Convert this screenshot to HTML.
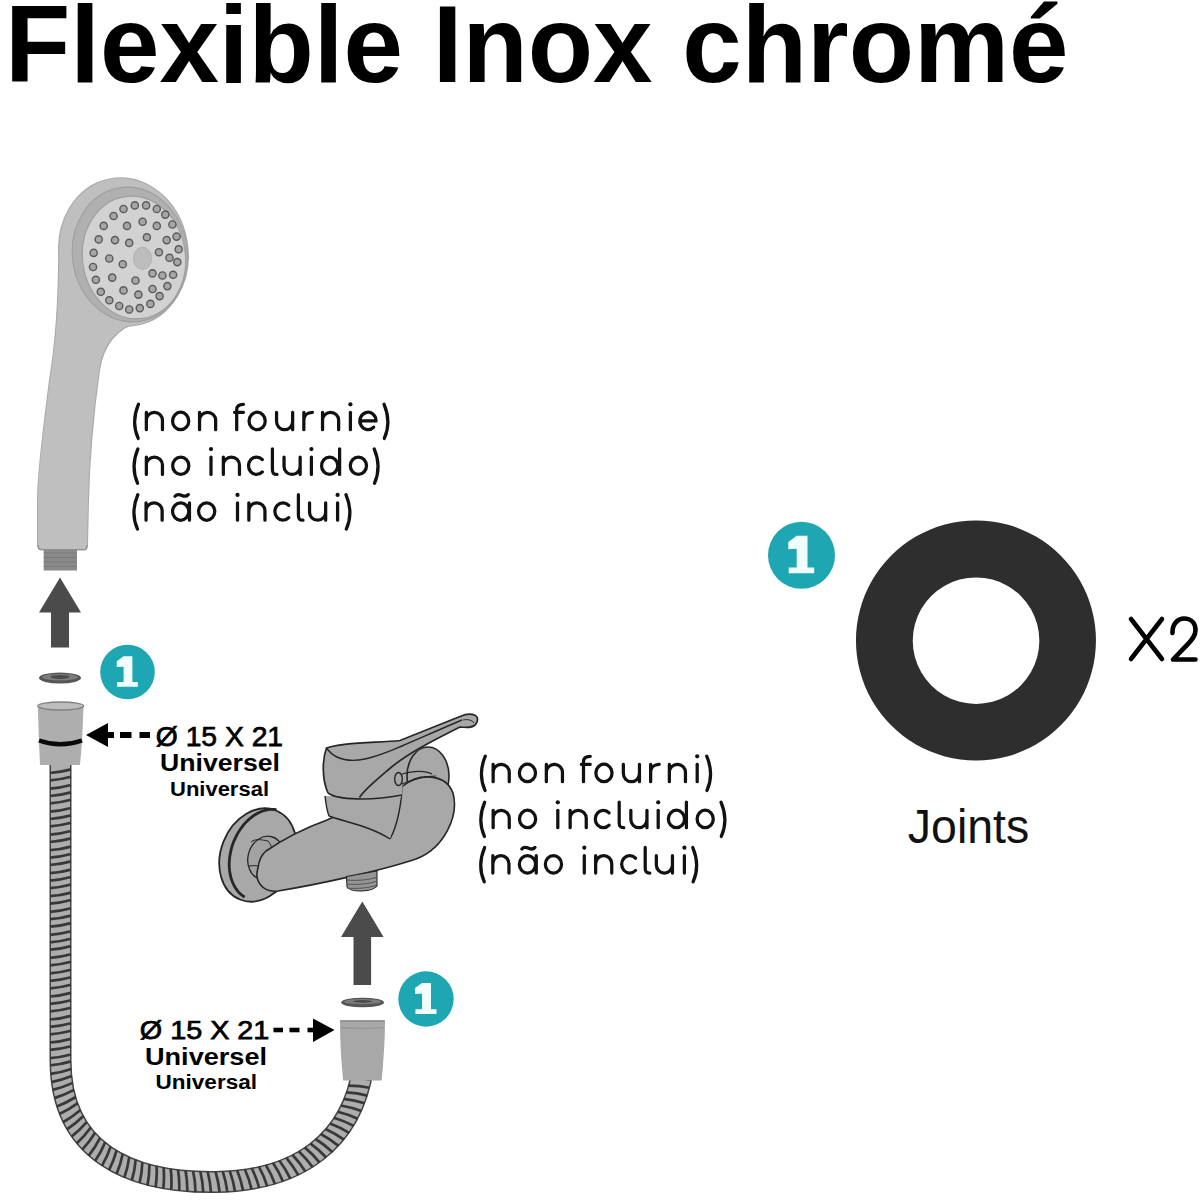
<!DOCTYPE html>
<html><head><meta charset="utf-8"><title>Flexible Inox chromé</title>
<style>html,body{margin:0;padding:0;background:#fff;} svg{display:block;}</style></head>
<body>
<svg width="1200" height="1200" viewBox="0 0 1200 1200">
<rect width="1200" height="1200" fill="#fff"/>
<text x="4.9" y="82" font-family="Liberation Sans" font-weight="bold" font-size="108.5" textLength="1063.6" lengthAdjust="spacingAndGlyphs" fill="#000">Flexible Inox chromé</text>
<path d="M59.2 248.4 C 59.2 290, 57.5 335, 50 380 C 45 420, 38 470, 38 500 L 38 545 Q 38 549.5 42 549.5 L 84 549.5 Q 87 549.5 87 545 L 88 500 C 89 460, 92 420, 99 370 C 103 345, 115 328, 140 321 L 150 250 Z" fill="none" stroke="#a9a9a9" stroke-width="2"/>
<ellipse cx="123.5" cy="252" rx="64" ry="74" transform="rotate(-10 123.5 252)" fill="none" stroke="#a9a9a9" stroke-width="2"/>
<path d="M59.2 248.4 C 59.2 290, 57.5 335, 50 380 C 45 420, 38 470, 38 500 L 38 545 Q 38 549.5 42 549.5 L 84 549.5 Q 87 549.5 87 545 L 88 500 C 89 460, 92 420, 99 370 C 103 345, 115 328, 140 321 L 150 250 Z" fill="#bfbfbf"/>
<path d="M38 545 Q 38 549.5 42 549.5 L 84 549.5 Q 87 549.5 87 545" fill="none" stroke="#8e8e8e" stroke-width="1.2"/>
<ellipse cx="123.5" cy="252" rx="64" ry="74" transform="rotate(-10 123.5 252)" fill="#bfbfbf"/>
<ellipse cx="130" cy="254.5" rx="57.5" ry="67.5" transform="rotate(-8 130 254.5)" fill="#b0b0b0" stroke="#a0a0a0" stroke-width="1.2"/>
<ellipse cx="134" cy="257.5" rx="51.5" ry="61.5" transform="rotate(-8 134 257.5)" fill="#d2d2d2" stroke="#a0a0a0" stroke-width="1.2"/>
<circle cx="123.5" cy="209" r="3.6" fill="#a6a6a6" stroke="#5a5a5a" stroke-width="1.4"/>
<circle cx="134.8" cy="205.4" r="3.6" fill="#a6a6a6" stroke="#5a5a5a" stroke-width="1.4"/>
<circle cx="146.1" cy="205.4" r="3.6" fill="#a6a6a6" stroke="#5a5a5a" stroke-width="1.4"/>
<circle cx="156.8" cy="209" r="3.6" fill="#a6a6a6" stroke="#5a5a5a" stroke-width="1.4"/>
<circle cx="165.3" cy="214.6" r="3.6" fill="#a6a6a6" stroke="#5a5a5a" stroke-width="1.4"/>
<circle cx="172.4" cy="224.5" r="3.6" fill="#a6a6a6" stroke="#5a5a5a" stroke-width="1.4"/>
<circle cx="176.6" cy="236.6" r="3.6" fill="#a6a6a6" stroke="#5a5a5a" stroke-width="1.4"/>
<circle cx="178.7" cy="249.3" r="3.6" fill="#a6a6a6" stroke="#5a5a5a" stroke-width="1.4"/>
<circle cx="177.3" cy="262.1" r="3.6" fill="#a6a6a6" stroke="#5a5a5a" stroke-width="1.4"/>
<circle cx="173.1" cy="274.8" r="3.6" fill="#a6a6a6" stroke="#5a5a5a" stroke-width="1.4"/>
<circle cx="167.4" cy="286.1" r="3.6" fill="#a6a6a6" stroke="#5a5a5a" stroke-width="1.4"/>
<circle cx="159.6" cy="296.1" r="3.6" fill="#a6a6a6" stroke="#5a5a5a" stroke-width="1.4"/>
<circle cx="150.4" cy="303.9" r="3.6" fill="#a6a6a6" stroke="#5a5a5a" stroke-width="1.4"/>
<circle cx="139.8" cy="308.1" r="3.6" fill="#a6a6a6" stroke="#5a5a5a" stroke-width="1.4"/>
<circle cx="129.2" cy="309.5" r="3.6" fill="#a6a6a6" stroke="#5a5a5a" stroke-width="1.4"/>
<circle cx="119.2" cy="306" r="3.6" fill="#a6a6a6" stroke="#5a5a5a" stroke-width="1.4"/>
<circle cx="109.3" cy="300.3" r="3.6" fill="#a6a6a6" stroke="#5a5a5a" stroke-width="1.4"/>
<circle cx="100.8" cy="291.8" r="3.6" fill="#a6a6a6" stroke="#5a5a5a" stroke-width="1.4"/>
<circle cx="95.9" cy="279.8" r="3.6" fill="#a6a6a6" stroke="#5a5a5a" stroke-width="1.4"/>
<circle cx="93" cy="267" r="3.6" fill="#a6a6a6" stroke="#5a5a5a" stroke-width="1.4"/>
<circle cx="93.7" cy="252.9" r="3.6" fill="#a6a6a6" stroke="#5a5a5a" stroke-width="1.4"/>
<circle cx="98.7" cy="239.4" r="3.6" fill="#a6a6a6" stroke="#5a5a5a" stroke-width="1.4"/>
<circle cx="103.7" cy="225.9" r="3.6" fill="#a6a6a6" stroke="#5a5a5a" stroke-width="1.4"/>
<circle cx="113.6" cy="216" r="3.6" fill="#a6a6a6" stroke="#5a5a5a" stroke-width="1.4"/>
<circle cx="127" cy="225.9" r="3.6" fill="#a6a6a6" stroke="#5a5a5a" stroke-width="1.4"/>
<circle cx="142.6" cy="221.7" r="3.6" fill="#a6a6a6" stroke="#5a5a5a" stroke-width="1.4"/>
<circle cx="156.8" cy="225.9" r="3.6" fill="#a6a6a6" stroke="#5a5a5a" stroke-width="1.4"/>
<circle cx="115" cy="240.1" r="3.6" fill="#a6a6a6" stroke="#5a5a5a" stroke-width="1.4"/>
<circle cx="129.2" cy="242.9" r="3.6" fill="#a6a6a6" stroke="#5a5a5a" stroke-width="1.4"/>
<circle cx="146.9" cy="237.3" r="3.6" fill="#a6a6a6" stroke="#5a5a5a" stroke-width="1.4"/>
<circle cx="166.7" cy="240.1" r="3.6" fill="#a6a6a6" stroke="#5a5a5a" stroke-width="1.4"/>
<circle cx="158.9" cy="252.2" r="3.6" fill="#a6a6a6" stroke="#5a5a5a" stroke-width="1.4"/>
<circle cx="169.5" cy="257.8" r="3.6" fill="#a6a6a6" stroke="#5a5a5a" stroke-width="1.4"/>
<circle cx="109.3" cy="258.5" r="3.6" fill="#a6a6a6" stroke="#5a5a5a" stroke-width="1.4"/>
<circle cx="122.8" cy="264.2" r="3.6" fill="#a6a6a6" stroke="#5a5a5a" stroke-width="1.4"/>
<circle cx="152.5" cy="273.4" r="3.6" fill="#a6a6a6" stroke="#5a5a5a" stroke-width="1.4"/>
<circle cx="162.4" cy="275.5" r="3.6" fill="#a6a6a6" stroke="#5a5a5a" stroke-width="1.4"/>
<circle cx="112.2" cy="277.6" r="3.6" fill="#a6a6a6" stroke="#5a5a5a" stroke-width="1.4"/>
<circle cx="135.5" cy="280.5" r="3.6" fill="#a6a6a6" stroke="#5a5a5a" stroke-width="1.4"/>
<circle cx="152.5" cy="289" r="3.6" fill="#a6a6a6" stroke="#5a5a5a" stroke-width="1.4"/>
<circle cx="123.5" cy="290.4" r="3.6" fill="#a6a6a6" stroke="#5a5a5a" stroke-width="1.4"/>
<circle cx="138.4" cy="294.6" r="3.6" fill="#a6a6a6" stroke="#5a5a5a" stroke-width="1.4"/>
<ellipse cx="142.5" cy="258.3" rx="9" ry="11" fill="#bdbdbd" stroke="#b0b0b0" stroke-width="1"/>
<rect x="43.7" y="549.5" width="33.3" height="21" fill="#8a8a8a"/>
<line x1="43.7" y1="553" x2="77" y2="553" stroke="#7a7a7a" stroke-width="1.2"/>
<line x1="43.7" y1="557.5" x2="77" y2="557.5" stroke="#7a7a7a" stroke-width="1.2"/>
<line x1="43.7" y1="562" x2="77" y2="562" stroke="#7a7a7a" stroke-width="1.2"/>
<line x1="43.7" y1="566.5" x2="77" y2="566.5" stroke="#7a7a7a" stroke-width="1.2"/>
<g fill="none" stroke="#111" stroke-width="3.25" stroke-linecap="round" stroke-linejoin="round"><path transform="translate(133.20 431.20)" d="M5.3 -27.05 Q-2.3 -9.1 5.0 7.25"/><path transform="translate(144.80 431.20)" d="M1.55 -1.55 V-18.95 M1.55 -10.9 A8.05 8.05 0 0 1 17.65 -10.9 V-1.55"/><path transform="translate(171.00 431.20)" d="M1.55 -10.25 A8.1 8.7 0 1 0 17.75 -10.25 A8.1 8.7 0 1 0 1.55 -10.25 Z"/><path transform="translate(198.00 431.20)" d="M1.55 -1.55 V-18.95 M1.55 -10.9 A8.05 8.05 0 0 1 17.65 -10.9 V-1.55"/><path transform="translate(233.00 431.20)" d="M3.7 -1.55 V-21.5 C3.7 -25.2, 6.2 -26.9, 10.45 -26.9 M1.55 -18.95 H10.45"/><path transform="translate(247.50 431.20)" d="M1.55 -10.25 A8.1 8.7 0 1 0 17.75 -10.25 A8.1 8.7 0 1 0 1.55 -10.25 Z"/><path transform="translate(275.00 431.20)" d="M1.55 -18.95 V-9.6 A8.05 8.05 0 0 0 17.65 -9.6 M17.65 -18.95 V-1.55"/><path transform="translate(302.30 431.20)" d="M1.55 -1.55 V-18.95 M1.55 -11 C1.55 -15.8, 5 -18.95, 10.15 -18.95"/><path transform="translate(321.00 431.20)" d="M1.55 -1.55 V-18.95 M1.55 -10.9 A8.05 8.05 0 0 1 17.65 -10.9 V-1.55"/><path transform="translate(348.40 431.20)" d="M2 -18.95 V-1.55"/><path transform="translate(358.30 431.20)" d="M1.55 -10.25 H17.75 A8.1 8.7 0 1 0 15.4 -4.1"/><path transform="translate(382.30 431.20)" d="M1.7 -27.05 Q9.3 -9.1 2.0 7.25"/></g><g fill="#111"><circle cx="350.40" cy="404.30" r="2.1"/></g>
<g fill="none" stroke="#111" stroke-width="3.25" stroke-linecap="round" stroke-linejoin="round"><path transform="translate(132.60 476.00)" d="M5.3 -27.05 Q-2.3 -9.1 5.0 7.25"/><path transform="translate(144.80 476.00)" d="M1.55 -1.55 V-18.95 M1.55 -10.9 A8.05 8.05 0 0 1 17.65 -10.9 V-1.55"/><path transform="translate(171.10 476.00)" d="M1.55 -10.25 A8.1 8.7 0 1 0 17.75 -10.25 A8.1 8.7 0 1 0 1.55 -10.25 Z"/><path transform="translate(209.00 476.00)" d="M2 -18.95 V-1.55"/><path transform="translate(221.80 476.00)" d="M1.55 -1.55 V-18.95 M1.55 -10.9 A8.05 8.05 0 0 1 17.65 -10.9 V-1.55"/><path transform="translate(246.90 476.00)" d="M15.4 -16.4 A8.1 8.7 0 1 0 15.4 -4.1"/><path transform="translate(270.60 476.00)" d="M1.8 -27.15 V-6.5 C1.8 -3, 3 -1.55, 6.4 -1.55"/><path transform="translate(282.50 476.00)" d="M1.55 -18.95 V-9.6 A8.05 8.05 0 0 0 17.65 -9.6 M17.65 -18.95 V-1.55"/><path transform="translate(309.40 476.00)" d="M2 -18.95 V-1.55"/><path transform="translate(320.00 476.00)" d="M1.55 -10.25 A8.1 8.7 0 1 0 17.75 -10.25 A8.1 8.7 0 1 0 1.55 -10.25 Z M19.6 -27.15 V-1.55"/><path transform="translate(348.75 476.00)" d="M1.55 -10.25 A8.1 8.7 0 1 0 17.75 -10.25 A8.1 8.7 0 1 0 1.55 -10.25 Z"/><path transform="translate(372.50 476.00)" d="M1.7 -27.05 Q9.3 -9.1 2.0 7.25"/></g><g fill="#111"><circle cx="211.00" cy="449.10" r="2.1"/><circle cx="311.40" cy="449.10" r="2.1"/></g>
<g fill="none" stroke="#111" stroke-width="3.25" stroke-linecap="round" stroke-linejoin="round"><path transform="translate(132.50 521.80)" d="M5.3 -27.05 Q-2.3 -9.1 5.0 7.25"/><path transform="translate(144.50 521.80)" d="M1.55 -1.55 V-18.95 M1.55 -10.9 A8.05 8.05 0 0 1 17.65 -10.9 V-1.55"/><path transform="translate(171.00 521.80)" d="M1.55 -10.25 A8.1 8.7 0 1 0 17.75 -10.25 A8.1 8.7 0 1 0 1.55 -10.25 Z M18.45 -18.95 V-1.55 M4 -25.6 C6 -28, 9 -27.2, 11 -26.3 C13 -25.4, 15.5 -25.2, 17.2 -27.2"/><path transform="translate(197.00 521.80)" d="M1.55 -10.25 A8.1 8.7 0 1 0 17.75 -10.25 A8.1 8.7 0 1 0 1.55 -10.25 Z"/><path transform="translate(235.50 521.80)" d="M2 -18.95 V-1.55"/><path transform="translate(247.30 521.80)" d="M1.55 -1.55 V-18.95 M1.55 -10.9 A8.05 8.05 0 0 1 17.65 -10.9 V-1.55"/><path transform="translate(273.30 521.80)" d="M15.4 -16.4 A8.1 8.7 0 1 0 15.4 -4.1"/><path transform="translate(296.60 521.80)" d="M1.8 -27.15 V-6.5 C1.8 -3, 3 -1.55, 6.4 -1.55"/><path transform="translate(308.00 521.80)" d="M1.55 -18.95 V-9.6 A8.05 8.05 0 0 0 17.65 -9.6 M17.65 -18.95 V-1.55"/><path transform="translate(335.60 521.80)" d="M2 -18.95 V-1.55"/><path transform="translate(344.30 521.80)" d="M1.7 -27.05 Q9.3 -9.1 2.0 7.25"/></g><g fill="#111"><circle cx="237.50" cy="494.90" r="2.1"/><circle cx="337.60" cy="494.90" r="2.1"/></g>
<path d="M60 577.5 L81 612.5 L69 612.5 L69 647.5 L51 647.5 L51 612.5 L39 612.5 Z" fill="#4b4b4b"/>
<ellipse cx="60" cy="678" rx="21" ry="5.5" fill="#555"/><ellipse cx="60" cy="677.2" rx="18" ry="3.3" fill="#7c7c7c"/><ellipse cx="60" cy="676.9" rx="9.5" ry="2" fill="#4a4a4a"/>
<circle cx="127.5" cy="672" r="27.3" fill="#1ea6b2"/><path transform="translate(127.5 672) scale(0.815)" d="M-4.8 -19.4 L6 -19.4 L6 12.3 L12.7 12.3 L12.7 18.1 L-12.8 18.1 L-12.8 12.3 L-4.8 12.3 L-4.8 -6.5 L-13.2 -6 L-13.2 -13.3 Z" fill="#f2ffff"/>
<path d="M60.5 763 L60.5 1060 C60.5 1152 130 1183 215 1182 C300 1181 352 1140 363 1068" fill="none" stroke="#444" stroke-width="22"/>
<path d="M60.5 763 L60.5 1060 C60.5 1152 130 1183 215 1182 C300 1181 352 1140 363 1068" fill="none" stroke="#adadad" stroke-width="19"/>
<path d="M50 773Q60.5 772.3 71 769.4M50 780.4Q60.5 779.7 71 776.8M50 788.6Q60.5 787.9 71 785M50 796Q60.5 795.3 71 792.4M50 803.4Q60.5 802.7 71 799.8M50 811.6Q60.5 810.9 71 808M50 819Q60.5 818.3 71 815.4M50 826.4Q60.5 825.7 71 822.8M50 834.6Q60.5 833.9 71 831M50 842Q60.5 841.3 71 838.4M50 850.2Q60.5 849.5 71 846.6M50 857.6Q60.5 856.9 71 854M50 865Q60.5 864.3 71 861.4M50 873.2Q60.5 872.5 71 869.6M50 880.6Q60.5 879.9 71 877M50 888.1Q60.5 887.4 71 884.5M50 896.2Q60.5 895.5 71 892.6M50 903.6Q60.5 902.9 71 900M50 911.8Q60.5 911.1 71 908.2M50 919.2Q60.5 918.5 71 915.6M50 926.7Q60.5 926 71 923.1M50 934.8Q60.5 934.1 71 931.2M50 942.3Q60.5 941.6 71 938.7M50 949.7Q60.5 949 71 946.1M50 957.8Q60.5 957.1 71 954.2M50 965.3Q60.5 964.6 71 961.7M50 973.4Q60.5 972.7 71 969.8M50 980.9Q60.5 980.2 71 977.3M50 988.3Q60.5 987.6 71 984.7M50 996.5Q60.5 995.8 71 992.9M50 1003.9Q60.5 1003.2 71 1000.3M50 1011.3Q60.5 1010.6 71 1007.7M50 1019.5Q60.5 1018.8 71 1015.9M50 1026.9Q60.5 1026.2 71 1023.3M50 1034.3Q60.5 1033.6 71 1030.7M50 1042.5Q60.5 1041.8 71 1038.9M50 1049.9Q60.5 1049.2 71 1046.3M50 1058.1Q60.5 1057.4 71 1054.5M50.1 1065.4Q60.6 1064.5 71 1061.4M50.5 1073.9Q60.9 1072.5 71.2 1068.9M51.4 1082.1Q61.7 1080.2 71.8 1076.1M52.6 1089.9Q62.8 1087.5 72.7 1082.9M54.3 1098.1Q64.4 1095.1 74 1089.9M56.7 1106.5Q66.6 1102.8 75.8 1097M59.4 1114Q69 1109.7 77.8 1103.2M63 1122.2Q72.2 1117.1 80.5 1110M66.9 1129.4Q75.7 1123.6 83.4 1116M71.5 1136.6Q79.8 1130.2 86.9 1121.9M76.6 1143.4Q84.4 1136.3 90.8 1127.5M82.2 1149.6Q89.4 1142 95.1 1132.7M88.6 1155.8Q95.2 1147.6 100.1 1137.9M95.1 1161Q101 1152.4 105.2 1142.3M101.9 1165.9Q107.2 1156.8 110.7 1146.5M109 1170.2Q113.7 1160.8 116.6 1150.3M116.5 1174.1Q120.6 1164.4 122.8 1153.8M124.3 1177.6Q127.8 1167.7 129.3 1156.9M131.8 1180.5Q134.8 1170.4 135.7 1159.6M139.5 1183.1Q142 1172.8 142.4 1162M147.5 1185.3Q149.5 1175 149.4 1164.1M155.6 1187.2Q157.2 1176.8 156.6 1165.9M163.3 1188.7Q164.5 1178.2 163.6 1167.4M171.2 1189.9Q172 1179.4 170.7 1168.6M179.2 1190.9Q179.7 1180.4 178 1169.6M187.3 1191.6Q187.5 1181.1 185.5 1170.4M195.5 1192.2Q195.4 1181.6 193.1 1171M203.2 1192.4Q202.8 1181.9 200.3 1171.3M211 1192.5Q210.4 1182 207.6 1171.5M219.6 1192.4Q218.6 1181.9 215.5 1171.5M227.4 1192.1Q226.1 1181.6 222.7 1171.3M235 1191.5Q233.5 1181.1 229.7 1170.9M243.1 1190.7Q241.2 1180.3 237.1 1170.2M251.6 1189.4Q249.3 1179.2 244.8 1169.2M259.2 1188Q256.5 1177.9 251.7 1168.1M267.2 1186.2Q264.1 1176.2 258.9 1166.6M275 1184.1Q271.4 1174.2 265.8 1164.9M283 1181.5Q279 1171.8 272.9 1162.8M290.3 1178.7Q285.8 1169.2 279.3 1160.5M298.3 1175.2Q293.2 1166 286.2 1157.6M305.4 1171.6Q299.9 1162.6 292.4 1154.7M312.7 1167.3Q306.6 1158.7 298.7 1151.2M319.6 1162.6Q313.1 1154.4 304.7 1147.4M326.2 1157.5Q319.1 1149.8 310.3 1143.4M332.4 1152.1Q324.8 1144.8 315.6 1139M338.5 1145.9Q330.4 1139.2 320.8 1134M343.9 1139.7Q335.4 1133.5 325.5 1129M349.1 1132.8Q340.2 1127.2 330 1123.4M353.6 1125.9Q344.4 1120.9 334 1117.7M357.7 1118.7Q348.2 1114.2 337.6 1111.7M361.4 1111.1Q351.6 1107.3 340.9 1105.5M364.7 1103.3Q354.6 1100 343.8 1098.9M367.3 1095.6Q357.2 1093 346.3 1092.4M369.6 1087.8Q359.3 1085.6 348.4 1085.6M371.6 1079.6Q361.2 1078 350.3 1078.5M373 1071.8Q362.6 1070.7 351.7 1071.7" stroke="#383838" stroke-width="2.7" fill="none"/>
<path d="M37.8 706 L83.6 706 L82 742 L80 765 L40 765 L39 742 Z" fill="#aeaeae"/>
<ellipse cx="60.7" cy="706" rx="22.9" ry="4" fill="#bdbdbd" stroke="#808080" stroke-width="1.4"/>
<path d="M39 740.5 Q60.5 748 82 740.5" stroke="#0a0a0a" stroke-width="4.5" fill="none"/>
<path d="M86 735 L108 723 L108 747 Z" fill="#000"/><rect x="106" y="732" width="8" height="6" fill="#000"/><rect x="120" y="732" width="11.5" height="6" fill="#000"/><rect x="139.5" y="732" width="10.5" height="6" fill="#000"/>
<text x="155.8" y="746.2" font-family="Liberation Sans" font-size="28.5" stroke="#000" stroke-width="0.75" textLength="127.3" lengthAdjust="spacingAndGlyphs">Ø 15 X 21</text>
<text x="160" y="771" font-family="Liberation Sans" font-weight="bold" font-size="23.5" textLength="120" lengthAdjust="spacingAndGlyphs">Universel</text>
<text x="170" y="796" font-family="Liberation Sans" font-weight="bold" font-size="19.5" textLength="99" lengthAdjust="spacingAndGlyphs">Universal</text>
<ellipse cx="258" cy="855" rx="37" ry="48" transform="rotate(22 258 855)" fill="#a8a8a8" stroke="#262626" stroke-width="1.8"/>
<path d="M244.6 897.1 L242.3 895.5 L240.1 893.7 L238.1 891.6 L236.3 889.2 L234.6 886.6 L233.2 883.8 L232.0 880.8 L230.9 877.7 L230.2 874.4 L229.6 870.9 L229.3 867.4 L229.2 863.7 L229.4 860.0 L229.8 856.3 L230.5 852.6 L231.3 848.9 L232.4 845.2 L233.7 841.6 L235.3 838.1 L237.0 834.6 L238.9 831.4 L241.0 828.3 L243.2 825.3 L245.6 822.6 L248.1 820.1 L250.8 817.8 L253.5 815.7 L256.3 814.0 L259.2 812.5 L262.1 811.3 L265.0 810.3 L267.9 809.7 L270.8 809.4 L273.7 809.4 L276.5 809.6" fill="none" stroke="#262626" stroke-width="2.8"/>
<ellipse cx="266" cy="858" rx="18" ry="22" transform="rotate(15 266 858)" fill="#a2a2a2" stroke="#262626" stroke-width="1.3"/>
<path d="M251 842 C 256 838, 262 840, 268 841 C 272 845, 273 852, 270 858 M249 866 C 255 865, 262 866, 268 868" fill="none" stroke="#262626" stroke-width="1"/>
<path d="M396 742 L414 736 L414 792 L396 794 Z" fill="#a8a8a8"/>
<ellipse cx="428" cy="776" rx="21" ry="29" fill="#a8a8a8" stroke="#262626" stroke-width="1.6"/>
<path d="M266 851 C 285 838, 305 828, 327 820 L 403 786 C 420 772, 446 774, 453 793 C 459 815, 445 848, 416 859 C 380 871, 320 884, 278 891 C 262 893, 254 880, 258 868 C 259 860, 261 855, 266 851 Z" fill="#a8a8a8" stroke="#262626" stroke-width="1.6"/>
<path d="M402 784 C 402 800, 398 825, 390 839" fill="none" stroke="#262626" stroke-width="1.4"/>
<path d="M325 796 C 326 805, 327 811, 329 816 C 345 822, 370 827, 390 839 L 401 796 Z" fill="#a8a8a8"/>
<path d="M329 816 C 345 822, 370 826, 390 839" fill="none" stroke="#262626" stroke-width="1.4"/>
<path d="M325 796 C 326 805, 327 811, 329 816" fill="none" stroke="#262626" stroke-width="1.4"/>
<path d="M326.5 748 C 345 741, 380 743, 400 740.5 L 460 716.5 C 470 712, 480 714, 477 722 C 475 728, 468 728, 460 727 C 430 742, 415 752, 404 760 L 402 796 C 380 800, 350 801, 328 793 C 322 780, 322 760, 326.5 748 Z" fill="#a8a8a8"/>
<path d="M328 793 C 322 780, 322 760, 326.5 748 C 345 741, 380 743, 400 740.5 L 460 716.5 C 470 712, 480 714, 477 722 C 475 728, 468 728, 460 727 C 430 742, 405 755, 388 770 C 375 781, 364 790, 359.5 797.5" fill="none" stroke="#262626" stroke-width="1.7"/>
<path d="M326.5 748 C 335 760, 350 762, 365 759 C 385 755, 410 742, 462 720" fill="none" stroke="#262626" stroke-width="1.4"/>
<path d="M328 793 C 338 800, 370 801, 402 795" fill="none" stroke="#262626" stroke-width="1.6"/>
<path d="M463 720 C 468 719, 472 720, 474 723" fill="none" stroke="#262626" stroke-width="1"/>
<ellipse cx="398.5" cy="779" rx="3.8" ry="6.5" fill="#a8a8a8" stroke="#262626" stroke-width="1.4"/>
<path d="M402 774 C 412 771, 425 770, 432 774 M402 784 C 412 780, 425 776, 436 776" fill="none" stroke="#262626" stroke-width="1.2"/>
<path d="M346.5 876.5 L 377 871 L 377 886 C 372 892, 352 893, 347 887 Z" fill="#959595" stroke="#262626" stroke-width="1.1"/>
<path d="M347 880 C 355 881, 370 880, 377 877" fill="none" stroke="#555" stroke-width="1"/>
<path d="M347 884 C 355 885, 370 884, 377 881" fill="none" stroke="#555" stroke-width="1"/>
<path d="M347 888 C 355 889, 370 888, 377 885" fill="none" stroke="#555" stroke-width="1"/>
<g fill="none" stroke="#111" stroke-width="3.25" stroke-linecap="round" stroke-linejoin="round"><path transform="translate(480.00 783.20)" d="M5.3 -27.05 Q-2.3 -9.1 5.0 7.25"/><path transform="translate(491.60 783.20)" d="M1.55 -1.55 V-18.95 M1.55 -10.9 A8.05 8.05 0 0 1 17.65 -10.9 V-1.55"/><path transform="translate(517.80 783.20)" d="M1.55 -10.25 A8.1 8.7 0 1 0 17.75 -10.25 A8.1 8.7 0 1 0 1.55 -10.25 Z"/><path transform="translate(544.80 783.20)" d="M1.55 -1.55 V-18.95 M1.55 -10.9 A8.05 8.05 0 0 1 17.65 -10.9 V-1.55"/><path transform="translate(579.80 783.20)" d="M3.7 -1.55 V-21.5 C3.7 -25.2, 6.2 -26.9, 10.45 -26.9 M1.55 -18.95 H10.45"/><path transform="translate(594.30 783.20)" d="M1.55 -10.25 A8.1 8.7 0 1 0 17.75 -10.25 A8.1 8.7 0 1 0 1.55 -10.25 Z"/><path transform="translate(621.80 783.20)" d="M1.55 -18.95 V-9.6 A8.05 8.05 0 0 0 17.65 -9.6 M17.65 -18.95 V-1.55"/><path transform="translate(649.10 783.20)" d="M1.55 -1.55 V-18.95 M1.55 -11 C1.55 -15.8, 5 -18.95, 10.15 -18.95"/><path transform="translate(667.80 783.20)" d="M1.55 -1.55 V-18.95 M1.55 -10.9 A8.05 8.05 0 0 1 17.65 -10.9 V-1.55"/><path transform="translate(695.20 783.20)" d="M2 -18.95 V-1.55"/><path transform="translate(705.00 783.20)" d="M1.7 -27.05 Q9.3 -9.1 2.0 7.25"/></g><g fill="#111"><circle cx="697.20" cy="756.30" r="2.1"/></g>
<g fill="none" stroke="#111" stroke-width="3.25" stroke-linecap="round" stroke-linejoin="round"><path transform="translate(479.40 829.20)" d="M5.3 -27.05 Q-2.3 -9.1 5.0 7.25"/><path transform="translate(491.60 829.20)" d="M1.55 -1.55 V-18.95 M1.55 -10.9 A8.05 8.05 0 0 1 17.65 -10.9 V-1.55"/><path transform="translate(517.90 829.20)" d="M1.55 -10.25 A8.1 8.7 0 1 0 17.75 -10.25 A8.1 8.7 0 1 0 1.55 -10.25 Z"/><path transform="translate(555.80 829.20)" d="M2 -18.95 V-1.55"/><path transform="translate(568.60 829.20)" d="M1.55 -1.55 V-18.95 M1.55 -10.9 A8.05 8.05 0 0 1 17.65 -10.9 V-1.55"/><path transform="translate(593.70 829.20)" d="M15.4 -16.4 A8.1 8.7 0 1 0 15.4 -4.1"/><path transform="translate(617.40 829.20)" d="M1.8 -27.15 V-6.5 C1.8 -3, 3 -1.55, 6.4 -1.55"/><path transform="translate(629.30 829.20)" d="M1.55 -18.95 V-9.6 A8.05 8.05 0 0 0 17.65 -9.6 M17.65 -18.95 V-1.55"/><path transform="translate(656.20 829.20)" d="M2 -18.95 V-1.55"/><path transform="translate(666.80 829.20)" d="M1.55 -10.25 A8.1 8.7 0 1 0 17.75 -10.25 A8.1 8.7 0 1 0 1.55 -10.25 Z M19.6 -27.15 V-1.55"/><path transform="translate(695.55 829.20)" d="M1.55 -10.25 A8.1 8.7 0 1 0 17.75 -10.25 A8.1 8.7 0 1 0 1.55 -10.25 Z"/><path transform="translate(719.30 829.20)" d="M1.7 -27.05 Q9.3 -9.1 2.0 7.25"/></g><g fill="#111"><circle cx="557.80" cy="802.30" r="2.1"/><circle cx="658.20" cy="802.30" r="2.1"/></g>
<g fill="none" stroke="#111" stroke-width="3.25" stroke-linecap="round" stroke-linejoin="round"><path transform="translate(479.30 874.60)" d="M5.3 -27.05 Q-2.3 -9.1 5.0 7.25"/><path transform="translate(491.30 874.60)" d="M1.55 -1.55 V-18.95 M1.55 -10.9 A8.05 8.05 0 0 1 17.65 -10.9 V-1.55"/><path transform="translate(517.80 874.60)" d="M1.55 -10.25 A8.1 8.7 0 1 0 17.75 -10.25 A8.1 8.7 0 1 0 1.55 -10.25 Z M18.45 -18.95 V-1.55 M4 -25.6 C6 -28, 9 -27.2, 11 -26.3 C13 -25.4, 15.5 -25.2, 17.2 -27.2"/><path transform="translate(543.80 874.60)" d="M1.55 -10.25 A8.1 8.7 0 1 0 17.75 -10.25 A8.1 8.7 0 1 0 1.55 -10.25 Z"/><path transform="translate(582.30 874.60)" d="M2 -18.95 V-1.55"/><path transform="translate(594.10 874.60)" d="M1.55 -1.55 V-18.95 M1.55 -10.9 A8.05 8.05 0 0 1 17.65 -10.9 V-1.55"/><path transform="translate(620.10 874.60)" d="M15.4 -16.4 A8.1 8.7 0 1 0 15.4 -4.1"/><path transform="translate(643.40 874.60)" d="M1.8 -27.15 V-6.5 C1.8 -3, 3 -1.55, 6.4 -1.55"/><path transform="translate(654.80 874.60)" d="M1.55 -18.95 V-9.6 A8.05 8.05 0 0 0 17.65 -9.6 M17.65 -18.95 V-1.55"/><path transform="translate(682.40 874.60)" d="M2 -18.95 V-1.55"/><path transform="translate(691.10 874.60)" d="M1.7 -27.05 Q9.3 -9.1 2.0 7.25"/></g><g fill="#111"><circle cx="584.30" cy="847.70" r="2.1"/><circle cx="684.40" cy="847.70" r="2.1"/></g>
<path d="M362.3 901.6 L383.6 937 L371.1 937 L371.1 985 L353.5 985 L353.5 937 L341 937 Z" fill="#4b4b4b"/>
<ellipse cx="362.6" cy="1002.5" rx="21.4" ry="4.8" fill="#555"/><ellipse cx="362.6" cy="1001.7" rx="18.4" ry="2.6" fill="#7c7c7c"/><ellipse cx="362.6" cy="1001.4" rx="9.6" ry="1.3" fill="#4a4a4a"/>
<circle cx="426" cy="999" r="27.7" fill="#1ea6b2"/><path transform="translate(426 999) scale(0.827)" d="M-4.8 -19.4 L6 -19.4 L6 12.3 L12.7 12.3 L12.7 18.1 L-12.8 18.1 L-12.8 12.3 L-4.8 12.3 L-4.8 -6.5 L-13.2 -6 L-13.2 -13.3 Z" fill="#f2ffff"/>
<path d="M340 1020.5 C 340 1040, 341 1060, 343.2 1080.5 L 381.7 1080.5 C 383.5 1060, 385 1040, 385 1020.5 Z" fill="#a8a8a8"/>
<path d="M340.3 1021 L384.7 1021" stroke="#8a8a8a" stroke-width="1.6"/>
<path d="M341 1027.5 Q362.5 1029.5 384 1027.5" stroke="#979797" stroke-width="1.6" fill="none"/>
<path d="M334.5 1030 L313 1018.5 L313 1042 Z" fill="#000"/><rect x="307.5" y="1027.7" width="6" height="4.6" fill="#000"/><rect x="289.5" y="1027.7" width="10" height="4.6" fill="#000"/><rect x="273.5" y="1027.7" width="9.5" height="4.6" fill="#000"/>
<text x="139.8" y="1039" font-family="Liberation Sans" font-size="26.2" stroke="#000" stroke-width="0.75" textLength="129.5" lengthAdjust="spacingAndGlyphs">Ø 15 X 21</text>
<text x="145" y="1065" font-family="Liberation Sans" font-weight="bold" font-size="23.5" textLength="122" lengthAdjust="spacingAndGlyphs">Universel</text>
<text x="155.5" y="1089" font-family="Liberation Sans" font-weight="bold" font-size="19.5" textLength="101.5" lengthAdjust="spacingAndGlyphs">Universal</text>
<path fill-rule="evenodd" fill="#2e2e2e" d="M976 520.5 A120 120 0 1 1 975.9 520.5 Z M976 577.4 A63.3 63.3 0 1 0 976.1 577.4 Z"/>
<circle cx="801.5" cy="555.2" r="33.5" fill="#1ea6b2"/><path transform="translate(801.5 555.2) scale(1.000)" d="M-4.8 -19.4 L6 -19.4 L6 12.3 L12.7 12.3 L12.7 18.1 L-12.8 18.1 L-12.8 12.3 L-4.8 12.3 L-4.8 -6.5 L-13.2 -6 L-13.2 -13.3 Z" fill="#f2ffff"/>
<text x="907.8" y="843.3" font-family="Liberation Sans" font-size="48.5" textLength="121.5" lengthAdjust="spacingAndGlyphs" fill="#111">Joints</text>
<path d="M1131 619 L1162 659 M1162 619 L1131 659" stroke="#000" stroke-width="4.6" stroke-linecap="round" fill="none"/>
<path d="M1172.5 633 C1172 624, 1178 618.5, 1184 618.5 C1191 618.5, 1195.5 623, 1195.5 630 C1195.5 636, 1192 640, 1187 645 L1173 659.5 L1195.5 659.5" stroke="#000" stroke-width="4.6" stroke-linecap="round" stroke-linejoin="round" fill="none"/>
</svg>
</body></html>
